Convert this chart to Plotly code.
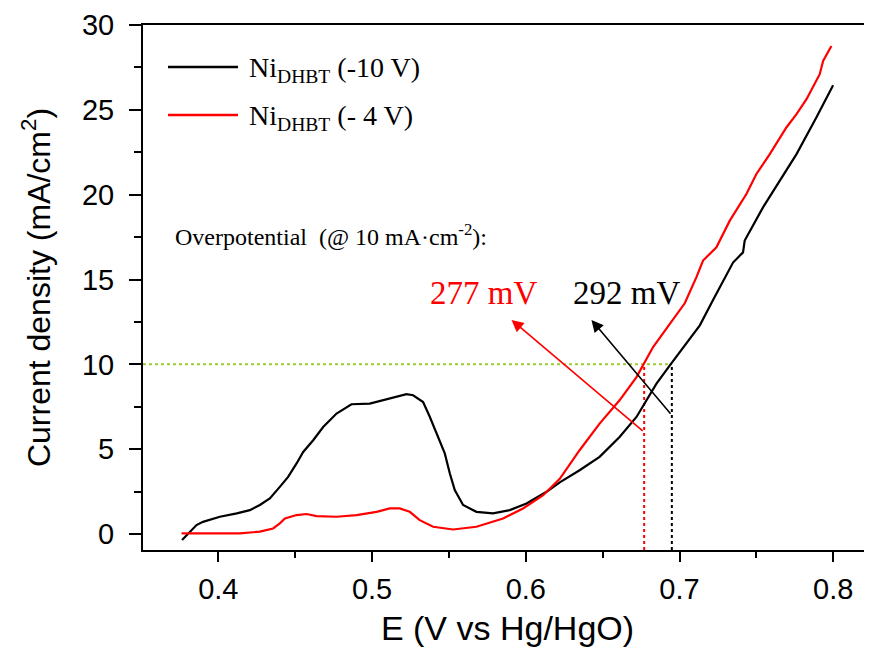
import plotly.graph_objects as go

# ---------------- data ----------------
E_black = [0.3764, 0.3815, 0.3858, 0.390, 0.401, 0.412, 0.4205, 0.427, 0.4335, 0.44,
           0.4454, 0.4509, 0.4552, 0.4617, 0.4682, 0.4769, 0.4866, 0.4985, 0.5115, 0.5224,
           0.5267, 0.5332, 0.5376, 0.543, 0.5473, 0.5506, 0.5538, 0.5592, 0.5679, 0.5787,
           0.5896, 0.6005, 0.6135, 0.6221, 0.635, 0.648, 0.661, 0.672, 0.6785, 0.685,
           0.6937, 0.7045, 0.7132, 0.7218, 0.7348, 0.7413, 0.7424, 0.7543, 0.7652, 0.7761,
           0.789, 0.7999]
J_black = [-0.35, 0.14, 0.53, 0.72, 1.02, 1.22, 1.41, 1.71, 2.1, 2.78,
           3.37, 4.16, 4.84, 5.53, 6.31, 7.1, 7.65, 7.69, 7.98, 8.24,
           8.18, 7.78, 6.9, 5.72, 4.75, 3.57, 2.59, 1.71, 1.31, 1.22,
           1.41, 1.8, 2.49, 3.05, 3.76, 4.55, 5.72, 6.9, 7.88, 8.86,
           9.94, 11.22, 12.3, 13.8, 16.0, 16.6, 17.3, 19.25, 20.82, 22.39,
           24.55, 26.45]

E_red = [0.3761, 0.390, 0.414, 0.427, 0.4356, 0.44, 0.4433, 0.4509, 0.4574, 0.4639,
         0.4769, 0.4899, 0.5029, 0.5115, 0.518, 0.5245, 0.531, 0.5397, 0.5527, 0.5679,
         0.5852, 0.5982, 0.6113, 0.6221, 0.635, 0.648, 0.661, 0.672, 0.6763, 0.6828,
         0.6937, 0.7034, 0.711, 0.7153, 0.724, 0.7327, 0.7435, 0.75, 0.7587, 0.7695,
         0.7761, 0.7826, 0.7912, 0.7934, 0.7988]
J_red = [0.04, 0.04, 0.04, 0.14, 0.33, 0.63, 0.92, 1.12, 1.18, 1.06,
         1.02, 1.12, 1.31, 1.51, 1.51, 1.31, 0.82, 0.43, 0.27, 0.43,
         0.92, 1.51, 2.29, 3.25, 4.94, 6.51, 7.88, 9.25, 9.94, 11.02,
         12.39, 13.6, 15.14, 16.12, 16.9, 18.47, 20.04, 21.22, 22.39, 23.96,
         24.75, 25.63, 27.1, 27.88, 28.76]

series_names = ["Ni<sub>DHBT</sub> (-10 V)", "Ni<sub>DHBT</sub> (- 4 V)"]
series_colors = ["#000000", "#ff0000"]
x_tickvals = [0.4, 0.5, 0.6, 0.7, 0.8]
y_tickvals = [0, 5, 10, 15, 20, 25, 30]
x_range = [0.351, 0.8252]
y_range = [-0.94, 30.0]

J_target = 10                       # mA/cm2
E_at_target = [0.695, 0.677]        # black, red
overpotential_text = ["292 mV", "277 mV"]
note_text = "Overpotential  (@ 10 mA·cm<sup>-2</sup>):"

SANS = "Liberation Sans, Arial, sans-serif"
SERIF = "Liberation Serif, Times New Roman, serif"

fig = go.Figure()

# guide lines (dotted)
fig.add_trace(go.Scatter(x=[x_range[0], E_at_target[0]], y=[J_target, J_target], mode="lines",
                         line=dict(color="#9acd32", width=2, dash="dot"), showlegend=False, hoverinfo="skip"))
fig.add_trace(go.Scatter(x=[E_at_target[1], E_at_target[1]], y=[y_range[0], J_target], mode="lines",
                         line=dict(color=series_colors[1], width=2, dash="dot"), showlegend=False, hoverinfo="skip"))
fig.add_trace(go.Scatter(x=[E_at_target[0], E_at_target[0]], y=[y_range[0], J_target], mode="lines",
                         line=dict(color=series_colors[0], width=2, dash="dot"), showlegend=False, hoverinfo="skip"))

# curves
fig.add_trace(go.Scatter(x=E_black, y=J_black, mode="lines", name=series_names[0],
                         line=dict(color=series_colors[0], width=2.2), showlegend=False))
fig.add_trace(go.Scatter(x=E_red, y=J_red, mode="lines", name=series_names[1],
                         line=dict(color=series_colors[1], width=2.2), showlegend=False))

annotations = []
shapes = []

# manual legend
leg_rows_y = [0.92, 0.8286]
for name, col, yy in zip(series_names, series_colors, leg_rows_y):
    shapes.append(dict(type="line", xref="paper", yref="paper", x0=0.0343, x1=0.1303, y0=yy, y1=yy,
                       line=dict(color=col, width=2.5)))
    annotations.append(dict(xref="paper", yref="paper", x=0.1427, y=yy, xanchor="left", yanchor="middle",
                            yshift=-3, text=name, showarrow=False,
                            font=dict(family=SERIF, size=28, color="#000000")))

# overpotential note
annotations.append(dict(xref="x", yref="y", x=0.3705, y=17.6, xanchor="left", yanchor="middle",
                        text=note_text, showarrow=False, font=dict(family=SERIF, size=24, color="#000000")))

# value labels
annotations.append(dict(xref="x", yref="y", x=0.5727, y=14.2, xanchor="center", yanchor="middle",
                        text=overpotential_text[1], showarrow=False,
                        font=dict(family=SERIF, size=33, color=series_colors[1])))
annotations.append(dict(xref="x", yref="y", x=0.6655, y=14.2, xanchor="center", yanchor="middle",
                        text=overpotential_text[0], showarrow=False,
                        font=dict(family=SERIF, size=33, color=series_colors[0])))

# arrows
annotations.append(dict(xref="x", yref="y", axref="x", ayref="y", x=0.5907, y=12.62,
                        ax=E_at_target[1], ay=6.0, text="", showarrow=True,
                        arrowhead=2, arrowsize=1.5, arrowwidth=1.6, arrowcolor=series_colors[1]))
annotations.append(dict(xref="x", yref="y", axref="x", ayref="y", x=0.6427, y=12.62,
                        ax=E_at_target[0], ay=7.0, text="", showarrow=True,
                        arrowhead=2, arrowsize=1.5, arrowwidth=1.6, arrowcolor=series_colors[0]))

# page body has an 8px margin: figure is 864x650 so that it fills the 872x658 window
fig.update_layout(
    width=864, height=650,
    margin=dict(l=135, r=0, t=17, b=108),
    paper_bgcolor="white", plot_bgcolor="white",
    showlegend=False,
    annotations=annotations, shapes=shapes,
    font=dict(family=SANS, color="#000000"),
)

fig.update_xaxes(
    automargin=False,
    range=x_range, tickvals=x_tickvals, ticktext=[f"{v:.1f}" for v in x_tickvals],
    showgrid=False, zeroline=False,
    showline=True, linecolor="black", linewidth=2, mirror=True,
    ticks="outside", ticklen=10, tickwidth=2, tickcolor="black",
    minor=dict(ticks="outside", ticklen=6, tickwidth=2, tickcolor="black", dtick=0.05, tick0=0.35, showgrid=False),
    tickfont=dict(family=SANS, size=29, color="black"),
    ticklabelstandoff=2,
    title=dict(text="E (V vs Hg/HgO)", font=dict(family=SANS, size=34, color="black"), standoff=12),
)
fig.update_yaxes(
    automargin=False,
    range=y_range, tickvals=y_tickvals,
    showgrid=False, zeroline=False,
    showline=True, linecolor="black", linewidth=2, mirror=False,
    ticks="outside", ticklen=12, tickwidth=2, tickcolor="black",
    minor=dict(ticks="outside", ticklen=7, tickwidth=2, tickcolor="black", dtick=2.5, tick0=0, showgrid=False),
    tickfont=dict(family=SANS, size=29, color="black"),
    ticklabelstandoff=9,
    title=dict(text="Current density (mA/cm<sup>2</sup>)", font=dict(family=SANS, size=32, color="black"), standoff=22),
)

fig.write_html("out.html")
